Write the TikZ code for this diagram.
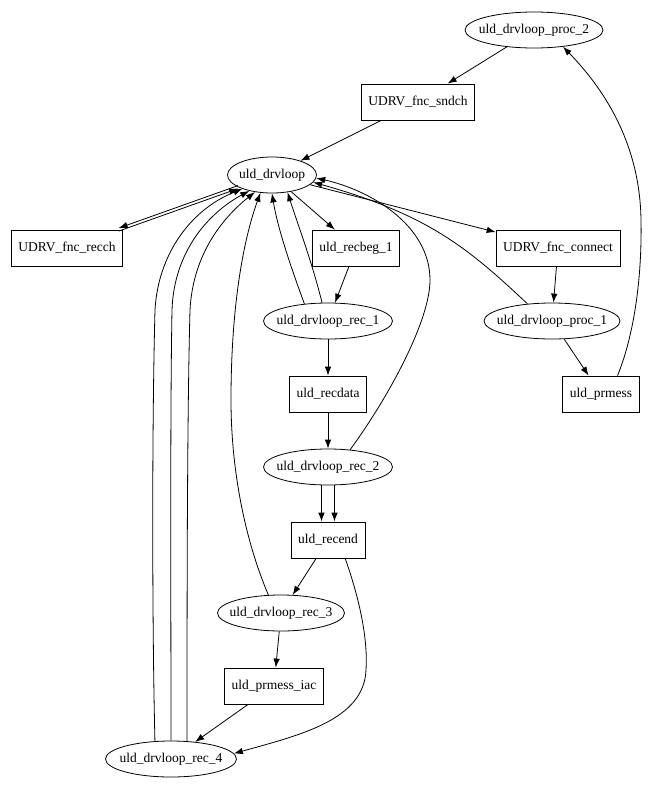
\documentclass[tikz,border=0pt]{standalone}
\usepackage{fontspec}
\setmainfont{Liberation Serif}
\usetikzlibrary{
  arrows.meta,
  shapes.geometric
}

\begin{document}
\begin{tikzpicture}[x=1pt,y=-1pt,>={Latex[length=9pt,width=6.5pt]},line width=0.8pt,
  fnbox/.style={draw,rectangle,minimum height=36pt,inner xsep=7pt,font=\fontsize{13.5}{16}\selectfont},
  loopnode/.style={draw,ellipse,minimum height=36pt,inner xsep=-12pt,inner ysep=0pt,font=\fontsize{13.5}{16}\selectfont}]
  \useasboundingbox (0,0) rectangle (660,788);
  \node[loopnode,minimum width=138pt] (proc2)   at (534,30)  {uld\_drvloop\_proc\_2};
  \node[fnbox]                        (sndch)   at (418,102) {UDRV\_fnc\_sndch};
  \node[loopnode,minimum width=89pt]  (drvloop) at (272,175) {uld\_drvloop};
  \node[fnbox]                        (recch)   at (67,248)  {UDRV\_fnc\_recch};
  \node[fnbox]                        (recbeg1) at (356,248) {uld\_recbeg\_1};
  \node[fnbox]                        (connect) at (558,248) {UDRV\_fnc\_connect};
  \node[loopnode,minimum width=129pt] (rec1)    at (328,321) {uld\_drvloop\_rec\_1};
  \node[loopnode,minimum width=136pt] (proc1)   at (552,321) {uld\_drvloop\_proc\_1};
  \node[fnbox]                        (recdata) at (328,394) {uld\_recdata};
  \node[fnbox]                        (prmess)  at (601,394) {uld\_prmess};
  \node[loopnode,minimum width=129pt] (rec2)    at (328,467) {uld\_drvloop\_rec\_2};
  \node[fnbox]                        (recend)  at (328,540) {uld\_recend};
  \node[loopnode,minimum width=127pt] (rec3)    at (281,613) {uld\_drvloop\_rec\_3};
  \node[fnbox]                        (iac)     at (274,686) {uld\_prmess\_iac};
  \node[loopnode,minimum width=131pt] (rec4)    at (171,759) {uld\_drvloop\_rec\_4};
  \draw[->] (proc2) -- (sndch);
  \draw[->] (sndch) -- (drvloop);
  \draw[->,transform canvas={yshift=1.5pt}] (drvloop) -- (recch);
  \draw[->,transform canvas={yshift=-1.5pt}] (recch) -- (drvloop);
  \draw[->] (drvloop) -- (recbeg1);
  \draw[->] (drvloop) -- (connect);
  \draw[->] (recbeg1) -- (rec1);
  \draw[->] (connect) -- (proc1);
  \draw[->] (proc1) -- (prmess);
  \draw[->] (rec1) -- (recdata);
  \draw[->] (recdata) -- (rec2);
  \draw[->,transform canvas={xshift=-6.5pt}] (rec2) -- (recend);
  \draw[->,transform canvas={xshift=6.5pt}] (rec2) -- (recend);
  \draw[->] (recend) -- (rec3);
  \draw[->] (rec3) -- (iac);
  \draw[->] (iac) -- (rec4);
  \draw[->] (recend.-47) .. controls (360,600) and (368,640) .. (366,670)
            .. controls (364,720) and (300,735) .. (rec4.5);
  \draw[->] (prmess.48) .. controls (636,330) and (642,270) .. (641,220)
            .. controls (640,150) and (610,95) .. (proc2.-30);
  \draw[->] (proc1.145) .. controls (470,250) and (430,215) .. (drvloop.-10);
  \draw[->] (rec2.38) .. controls (390,395) and (430,320) .. (430,280)
            .. controls (430,225) and (370,190) .. (drvloop.-4);
  \draw[->] (rec1.144) .. controls (292,270) and (278,230) .. (drvloop.270);
  \draw[->] (rec1.108) .. controls (312,262) and (298,225) .. (drvloop.312);
  \draw[->] (rec3.125) .. controls (245,540) and (231,470) .. (231,400)
            .. controls (231,300) and (245,235) .. (drvloop.237);
  \draw[->] (rec4.132) .. controls (152,620) and (152,420) .. (155,310)
            .. controls (158,255) and (190,210) .. (drvloop.205);
  \draw[->] (rec4.90) .. controls (171,620) and (170,420) .. (172,310)
            .. controls (174,250) and (210,212) .. (drvloop.215);
  \draw[->] (rec4.48) .. controls (187,620) and (187,420) .. (190,310)
            .. controls (193,252) and (225,216) .. (drvloop.225);
\end{tikzpicture}
\end{document}
